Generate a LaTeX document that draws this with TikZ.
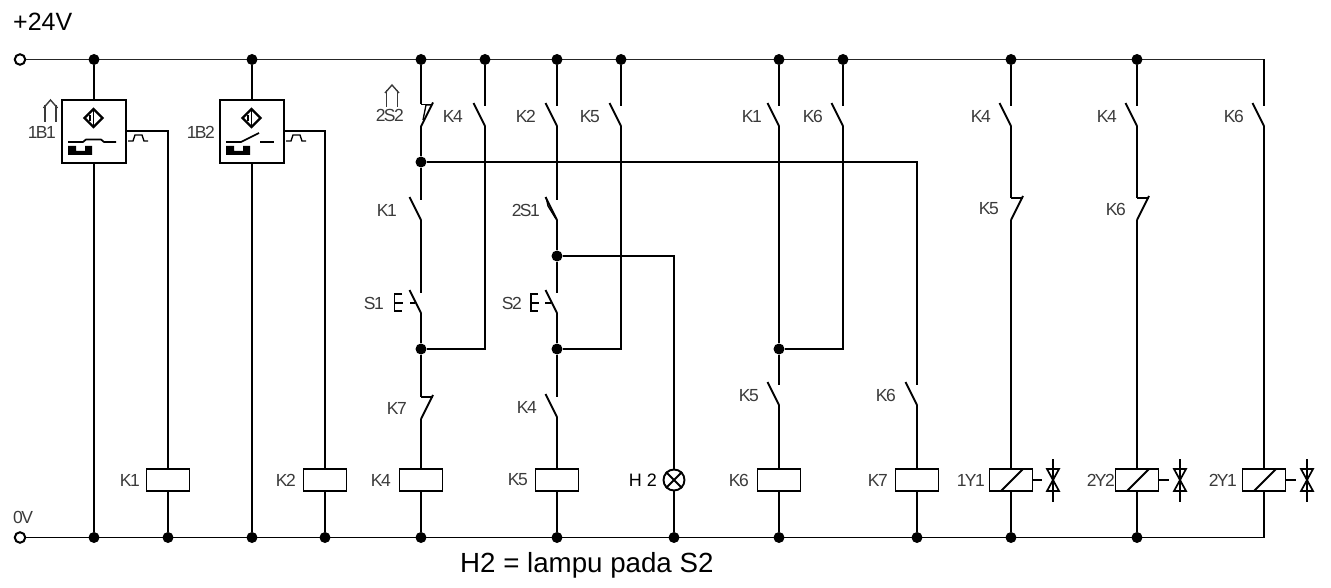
\documentclass[tikz,border=0pt]{standalone}
\usepackage{fontspec}
\setmainfont{Liberation Sans}
\newfontfamily\labf[LetterSpace=-9]{Liberation Sans}
\definecolor{lab}{HTML}{3a3a3a}
\tikzset{
  wire/.style={line width=1.9pt,black,line join=miter},
  thinw/.style={line width=1.6pt,black},
  dot/.style={circle,fill=black,inner sep=0pt,minimum size=11pt},
  term/.style={circle,draw=black,line width=2pt,fill=white,inner sep=0pt,minimum size=10.5pt},
  coil/.style={draw=black,line width=1.9pt,fill=white,minimum width=43pt,minimum height=22pt,inner sep=0pt},
  sens/.style={draw=black,line width=1.9pt,fill=white,minimum width=64pt,minimum height=63pt,inner sep=0pt},
  lamp/.style={circle,draw=black,line width=1.9pt,fill=white,minimum size=21pt,inner sep=0pt},
  lbl/.style={anchor=east,inner sep=0pt,text=lab,font=\labf\fontsize{17.5}{18}\selectfont},
  big/.style={anchor=west,inner sep=0pt,text=black},
}
% normally open contact: name-t / name-b are the wire ends
\newcommand{\contactNO}[4]{%
  \coordinate (#1-t) at (#2,#3);
  \coordinate (#1-b) at (#2,#3+20);
  \draw[wire] (#2-11.5,#3-3) -- (#1-b);
  \node[lbl] (#1-l) at (#4,#3+10.5) {#1};}
% normally closed contact
\newcommand{\contactNC}[4]{%
  \coordinate (#1-t) at (#2,#3);
  \coordinate (#1-b) at (#2,#3+22);
  \draw[wire] (#1-t) -- (#2+12,#3);
  \draw[wire] (#2+12,#3-2) -- (#1-b);
  \node[lbl] (#1-l) at (#4,#3+11) {#1};}
% pilot arrow
\newcommand{\pilot}[2]{%
  \draw[line width=1.4pt,lab] (#1-7,#2+8) -- (#1,#2) -- (#1+7,#2+8);
  \draw[line width=1.4pt,lab] (#1-5.5,#2+22) -- (#1-5.5,#2+5);
  \draw[line width=1.4pt,lab] (#1+5.5,#2+22) -- (#1+5.5,#2+5);}
% valve symbol
\newcommand{\valve}[2]{%
  \coordinate (#1-s) at (#2-11,480);
  \draw[line width=1.8pt] (#2,459) -- (#2,502);
  \draw[line width=1.7pt] (#2-6,469) -- (#2+6,469) -- (#2-6,491) -- (#2+6,491) -- cycle;}
% sensor interior
\newcommand{\sensorsym}[1]{%
  \draw[line width=2.2pt,fill=white] (#1-9.5,118) -- (#1-.5,109) -- (#1+8.5,118) -- (#1-.5,127) -- cycle;
  \draw[line width=1.8pt] (#1-.5,110) -- (#1-.5,126);
  \draw[line width=1.2pt] (#1-4,115) -- (#1-4,121);
  \fill[black] (#1-26,146) -- (#1-18,146) -- (#1-18,151) -- (#1-9,151) -- (#1-9,146) -- (#1-2,146) -- (#1-2,155) -- (#1-26,155) -- cycle;
  \draw[line width=1.3pt] (#1+34,141) -- (#1+39,141) -- (#1+41,135) -- (#1+48,135) -- (#1+50,141) -- (#1+54,141);}
\begin{document}
\begin{tikzpicture}[x=1pt,y=-1pt]
\useasboundingbox (0,0) rectangle (1331,588);
% rails
\node[term] (T) at (20,59.5) {};
\node[term] (B) at (20,537.5) {};
\coordinate (TR) at (1264,59.5);
\coordinate (BR) at (1264,537.5);
\draw[line width=1.6pt,black!85] (T) -- (TR);
\draw[wire] (B) -- (BR);
% top dots
\foreach \n/\x in {94/94,252/252,421/421,485/485,557/557,621/621,779/779,843/843,1011/1011,1137/1137}
  \node[dot] (t\n) at (\x,59.5) {};
% bottom dots
\foreach \n/\x in {94/94,168/168,252/252,325/325,421/421,557/557,674/674,779/779,917/917,1011/1011,1137/1137}
  \node[dot] (b\n) at (\x,537.5) {};
% junctions
\node[dot] (j1) at (421,162) {};
\node[dot] (j2) at (421,349) {};
\node[dot] (j3) at (557,349) {};
\node[dot] (j4) at (557,256) {};
\node[dot] (j5) at (779,349) {};
\coordinate (c1) at (917,162);
\coordinate (c2) at (485,349);
\coordinate (c3) at (621,349);
\coordinate (c4) at (674,256);
\coordinate (c5) at (843,349);
% sensors
\node[sens] (S1B) at (94,131.5) {};
\node[sens] (S2B) at (252,131.5) {};
\sensorsym{94}
\sensorsym{252}
\draw[line width=1.7pt] (68,142) -- (83,142) -- (86,139.5) -- (101,139.5) -- (104,142) -- (116,142);
\draw[line width=1.7pt] (226,142) -- (241,142) -- (259,133);
\draw[line width=1.7pt] (260,142) -- (274,142);
\node[lbl] (l1B1) at (56,132) {1B1};
\node[lbl] (l1B2) at (215,132) {1B2};
\pilot{50.5}{100}
\pilot{392}{85}
% coils
\node[coil] (K1c) at (168,480) {};
\node[coil] (K2c) at (325,480) {};
\node[coil] (K4c) at (421,480) {};
\node[coil] (K5c) at (557,480) {};
\node[coil] (K6c) at (779,480) {};
\node[coil] (K7c) at (917,480) {};
\node[coil] (Y11) at (1011,480) {};
\node[coil] (Y22) at (1137,480) {};
\node[coil] (Y21) at (1264,480) {};
\foreach \x in {1011,1137,1264}
  \draw[line width=1.9pt] (\x-10,491) -- (\x+12,469);
\node[lamp] (H) at (674,480) {};
\draw[line width=1.8pt] (H.north west) -- (H.south east) (H.north east) -- (H.south west);
% coil labels
\node[lbl] (lK1) at (140,480) {K1};
\node[lbl] (lK2) at (296,480) {K2};
\node[lbl] (lK4) at (391,480) {K4};
\node[lbl] (lK5) at (528,480) {K5};
\node[lbl] (lK6) at (749,480) {K6};
\node[lbl] (lK7) at (888,480) {K7};
\node[lbl,text=black,font=\fontsize{18}{18}\selectfont] (lH) at (657,480) {H 2};
\node[lbl] (lY11) at (985,480) {1Y1};
\node[lbl] (lY22) at (1115,480) {2Y2};
\node[lbl] (lY21) at (1237,480) {2Y1};
% valves
\valve{v1}{1053}
\valve{v2}{1180}
\valve{v3}{1307}
\draw[thinw] (Y11.east) -- (v1-s);
\draw[thinw] (Y22.east) -- (v2-s);
\draw[thinw] (Y21.east) -- (v3-s);
% contacts
\contactNC{2S2}{421}{104.5}{404}
\draw[line width=1.3pt] (432,105) -- (426,105) -- (423,120);
\contactNO{K4}{485}{106}{463}
\coordinate (a4t) at (K4-t); \coordinate (a4b) at (K4-b);
\contactNO{K2}{557}{106}{536}
\contactNO{K5}{621}{106}{600}
\coordinate (a5t) at (K5-t); \coordinate (a5b) at (K5-b);
\contactNO{K1}{421}{200}{397}
\coordinate (a1t) at (K1-t); \coordinate (a1b) at (K1-b);
\contactNO{2S1}{557}{200}{540}
\draw[line width=1.3pt] (546,197) -- (548,206) -- (556,219);
\contactNO{S1}{421}{293}{384}
\contactNO{S2}{557}{293}{522}
\draw[line width=1.6pt] (402,294) -- (394.5,294) -- (394.5,311) -- (402,311) (394.5,303) -- (403,303);
\draw[line width=1.6pt] (410,303) -- (415,303);
\draw[line width=1.6pt] (538,294) -- (531,294) -- (531,311) -- (538,311) (531,303) -- (539,303);
\draw[line width=1.6pt] (545,303) -- (551,303);
\contactNC{K7}{421}{397}{407}
\contactNO{K4}{557}{397}{537}
\coordinate (b4t) at (K4-t); \coordinate (b4b) at (K4-b);
\contactNO{K1}{779}{106}{762}
\coordinate (d1t) at (K1-t); \coordinate (d1b) at (K1-b);
\contactNO{K6}{843}{106}{823}
\coordinate (d6t) at (K6-t); \coordinate (d6b) at (K6-b);
\contactNO{K5}{779}{385}{759}
\coordinate (e5t) at (K5-t); \coordinate (e5b) at (K5-b);
\contactNO{K6}{917}{385}{896}
\coordinate (e6t) at (K6-t); \coordinate (e6b) at (K6-b);
\contactNO{K4}{1011}{106}{991}
\coordinate (f4t) at (K4-t); \coordinate (f4b) at (K4-b);
\contactNC{K5}{1011}{198}{999}
\coordinate (g5t) at (K5-t); \coordinate (g5b) at (K5-b);
\contactNO{K4}{1137}{106}{1117}
\coordinate (h4t) at (K4-t); \coordinate (h4b) at (K4-b);
\contactNC{K6}{1137}{198}{1126}
\coordinate (i6t) at (K6-t); \coordinate (i6b) at (K6-b);
\contactNO{K6}{1264}{106}{1244}
\coordinate (k6t) at (K6-t); \coordinate (k6b) at (K6-b);
% wires: sensors
\draw[wire] (t94) -- (S1B.north);
\draw[wire] (S1B.south) -- (b94);
\draw[wire] (t252) -- (S2B.north);
\draw[wire] (S2B.south) -- (b252);
\coordinate (o1) at (168,131); \coordinate (o2) at (325,131);
\coordinate (o1s) at (126,131); \coordinate (o2s) at (284,131);
\draw[thinw] (o1s) -- (o1) -- (K1c.north);
\draw[thinw] (o2s) -- (o2) -- (K2c.north);
\draw[wire] (K1c.south) -- (b168);
\draw[wire] (K2c.south) -- (b325);
% column 421
\draw[wire] (t421) -- (2S2-t);
\draw[wire] (2S2-b) -- (j1) -- (a1t);
\draw[wire] (a1b) -- (S1-t);
\draw[wire] (S1-b) -- (j2) -- (K7-t);
\draw[wire] (K7-b) -- (K4c.north);
\draw[wire] (K4c.south) -- (b421);
% column 485
\draw[wire] (t485) -- (a4t);
\draw[wire] (a4b) -- (c2) -- (j2);
% column 557
\draw[wire] (t557) -- (K2-t);
\draw[wire] (K2-b) -- (2S1-t);
\draw[wire] (2S1-b) -- (j4) -- (S2-t);
\draw[wire] (S2-b) -- (j3) -- (b4t);
\draw[wire] (b4b) -- (K5c.north);
\draw[wire] (K5c.south) -- (b557);
% column 621
\draw[wire] (t621) -- (a5t);
\draw[wire] (a5b) -- (c3) -- (j3);
% lamp
\draw[thinw] (j4) -- (c4) -- (H.north);
\draw[wire] (H.south) -- (b674);
% column 779, 843
\draw[wire] (t779) -- (d1t);
\draw[wire] (d1b) -- (j5) -- (e5t);
\draw[wire] (e5b) -- (K6c.north);
\draw[wire] (K6c.south) -- (b779);
\draw[wire] (t843) -- (d6t);
\draw[wire] (d6b) -- (c5) -- (j5);
% column 917
\draw[wire] (j1) -- (c1) -- (e6t);
\draw[wire] (e6b) -- (K7c.north);
\draw[wire] (K7c.south) -- (b917);
% right columns
\draw[wire] (t1011) -- (f4t);
\draw[wire] (f4b) -- (g5t);
\draw[wire] (g5b) -- (Y11.north);
\draw[wire] (Y11.south) -- (b1011);
\draw[wire] (t1137) -- (h4t);
\draw[wire] (h4b) -- (i6t);
\draw[wire] (i6b) -- (Y22.north);
\draw[wire] (Y22.south) -- (b1137);
\draw[wire] (TR) -- (k6t);
\draw[wire] (k6b) -- (Y21.north);
\draw[wire] (Y21.south) -- (BR);
% free text
\node[big,font=\fontsize{25}{26}\selectfont] (vp) at (13,22) {+24V};
\node[lbl,anchor=west] (v0) at (13,517) {0V};
\node[big,font=\fontsize{27.7}{29}\selectfont] (cap) at (460,565) {H2 = lampu pada S2};
\end{tikzpicture}
\end{document}
